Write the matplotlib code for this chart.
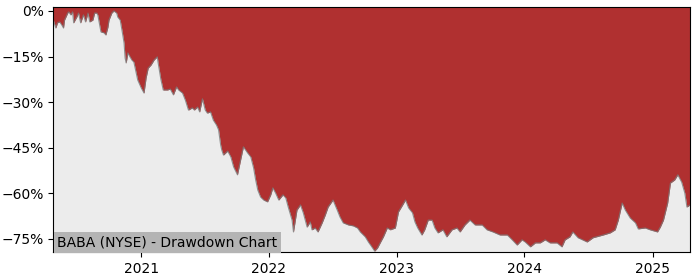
"""BABA (NYSE) drawdown chart: red area from the top down to the running drawdown."""
import matplotlib

matplotlib.use("Agg")
import matplotlib.pyplot as plt
import matplotlib.dates as mdates
import pandas as pd
from matplotlib.ticker import FuncFormatter

TITLE = "BABA (NYSE) - Drawdown Chart"

# drawdown from running peak, percent
DATES = [
    "2020-04-25", "2020-05-02", "2020-05-07", "2020-05-13", "2020-05-19", "2020-05-24",
    "2020-05-27", "2020-06-05", "2020-06-08", "2020-06-14", "2020-06-19", "2020-06-22",
    "2020-07-01", "2020-07-06", "2020-07-12", "2020-07-20", "2020-07-26", "2020-08-02",
    "2020-08-07", "2020-08-16", "2020-08-21", "2020-08-27", "2020-08-30", "2020-09-08",
    "2020-09-17", "2020-09-22", "2020-09-28", "2020-10-01", "2020-10-09", "2020-10-15",
    "2020-10-23", "2020-10-26", "2020-11-02", "2020-11-07", "2020-11-13", "2020-11-16",
    "2020-11-19", "2020-11-24", "2020-11-27", "2020-12-05", "2020-12-11", "2020-12-22",
    "2021-01-01", "2021-01-09", "2021-01-15", "2021-01-21", "2021-01-29", "2021-02-07",
    "2021-02-16", "2021-02-18", "2021-02-26", "2021-03-05", "2021-03-17", "2021-03-25",
    "2021-04-03", "2021-04-12", "2021-04-18", "2021-04-29", "2021-05-07", "2021-05-16",
    "2021-05-27", "2021-06-02", "2021-06-11", "2021-06-17", "2021-06-25", "2021-07-03",
    "2021-07-09", "2021-07-18", "2021-07-26", "2021-08-04", "2021-08-10", "2021-08-16",
    "2021-08-19", "2021-08-24", "2021-09-05", "2021-09-14", "2021-09-22", "2021-10-03",
    "2021-10-12", "2021-10-20", "2021-11-01", "2021-11-10", "2021-11-18", "2021-11-24",
    "2021-11-30", "2021-12-08", "2021-12-17", "2021-12-28", "2022-01-06", "2022-01-12",
    "2022-01-20", "2022-01-29", "2022-02-10", "2022-02-18", "2022-02-25", "2022-03-08",
    "2022-03-12", "2022-03-22", "2022-04-01", "2022-04-09", "2022-04-20", "2022-04-29",
    "2022-05-04", "2022-05-13", "2022-05-21", "2022-06-02", "2022-06-11", "2022-06-19",
    "2022-07-03", "2022-07-15", "2022-07-23", "2022-08-01", "2022-08-16", "2022-08-30",
    "2022-09-11", "2022-09-19", "2022-10-03", "2022-10-12", "2022-10-20", "2022-10-30",
    "2022-11-07", "2022-11-16", "2022-11-24", "2022-12-05", "2022-12-14", "2022-12-28",
    "2023-01-06", "2023-01-18", "2023-01-26", "2023-02-04", "2023-02-15", "2023-02-22",
    "2023-03-02", "2023-03-14", "2023-03-22", "2023-04-01", "2023-04-12", "2023-04-20",
    "2023-04-29", "2023-05-13", "2023-05-24", "2023-06-08", "2023-06-22", "2023-07-01",
    "2023-07-15", "2023-07-29", "2023-08-13", "2023-09-02", "2023-09-16", "2023-10-03",
    "2023-10-23", "2023-11-13", "2023-11-27", "2023-12-11", "2023-12-25", "2024-01-03",
    "2024-01-18", "2024-02-01", "2024-02-15", "2024-02-29", "2024-03-14", "2024-04-03",
    "2024-04-17", "2024-04-26", "2024-05-10", "2024-05-18", "2024-06-02", "2024-06-28",
    "2024-07-15", "2024-08-13", "2024-09-02", "2024-09-16", "2024-09-25", "2024-10-06",
    "2024-10-15", "2024-10-29", "2024-11-13", "2024-11-21", "2024-12-11", "2024-12-25",
    "2025-01-15", "2025-01-23", "2025-02-01", "2025-02-13", "2025-02-21", "2025-03-05",
    "2025-03-14", "2025-03-25", "2025-04-03", "2025-04-09", "2025-04-18",
]
DRAWDOWN = [
    -3.0, -5.6, -3.9, -3.6, -4.6, -5.6,
    -3.0, -0.7, -0.3, -1.3, -0.3, -3.9,
    -2.0, -0.7, -3.9, -1.3, -3.6, -0.7,
    -3.6, -3.0, -0.7, -0.7, -1.3, -6.9,
    -7.2, -7.9, -5.3, -3.0, -0.7, 0.0,
    -0.7, -2.0, -3.0, -6.3, -10.5, -15.5,
    -17.1, -13.8, -14.5, -16.1, -16.8, -22.7,
    -25.3, -27.0, -22.0, -18.8, -17.8, -16.1,
    -15.1, -16.8, -22.4, -26.0, -26.0, -25.7,
    -27.6, -25.0, -26.0, -27.0, -29.3, -32.6,
    -31.9, -32.6, -31.6, -33.2, -28.9, -32.6,
    -33.6, -33.2, -35.9, -37.5, -39.1, -44.1,
    -45.7, -47.4, -46.1, -48.0, -51.3, -53.9,
    -49.0, -44.7, -46.7, -48.0, -51.6, -55.6,
    -58.9, -61.2, -62.2, -62.8, -60.5, -58.2,
    -59.9, -62.2, -60.5, -61.5, -64.5, -68.8,
    -72.7, -65.5, -63.8, -66.4, -71.1, -69.4,
    -72.0, -71.4, -72.7, -69.7, -67.1, -64.5,
    -62.2, -65.5, -67.8, -69.7, -70.4, -70.7,
    -71.4, -72.7, -74.3, -76.0, -77.3, -79.0,
    -78.0, -76.0, -74.3, -71.4, -72.0, -71.4,
    -66.1, -63.8, -62.2, -64.8, -66.4, -69.4,
    -71.4, -73.7, -72.0, -68.8, -68.8, -71.4,
    -73.0, -72.0, -74.3, -72.0, -71.4, -72.7,
    -70.4, -68.8, -70.4, -70.4, -72.0, -72.7,
    -73.7, -73.7, -75.3, -77.0, -75.3, -76.0,
    -77.6, -76.3, -76.3, -75.3, -76.3, -76.3,
    -77.6, -75.3, -74.3, -72.7, -74.6, -76.0,
    -74.6, -73.7, -73.0, -72.0, -68.8, -63.2,
    -65.5, -68.1, -69.7, -71.7, -71.4, -72.0,
    -72.7, -71.1, -68.8, -63.2, -56.6, -55.6,
    -53.9, -56.3, -59.9, -64.5, -63.8,
]
Y_TICKS = [0, -15, -30, -45, -60, -75]
Y_LIMITS = (-79.3, 1.3)

RED = "#b03030"
BG = "#ececec"


def main():
    dates = pd.to_datetime(DATES)

    fig = plt.figure(figsize=(7.0, 2.8), dpi=100)
    ax = fig.add_axes([0.0762, 0.1, 0.9096, 0.875])
    ax.set_facecolor(BG)

    # red band runs from the top of the axes down to the drawdown curve
    ax.fill_between(dates, DRAWDOWN, Y_LIMITS[1] + 5, color=RED, lw=0)
    ax.plot(dates, DRAWDOWN, color="#7a7a7a", lw=0.8, alpha=0.8)

    ax.set_xlim(dates[0], dates[-1])
    ax.set_ylim(*Y_LIMITS)
    ax.set_yticks(Y_TICKS)
    ax.yaxis.set_major_formatter(FuncFormatter(lambda v, _: f"{v:.0f}%".replace("-", "\u2212")))
    ax.xaxis.set_major_locator(mdates.YearLocator())
    ax.xaxis.set_major_formatter(mdates.DateFormatter("%Y"))

    ax.text(0.006, 0.012, TITLE, transform=ax.transAxes, fontsize=10,
            ha="left", va="bottom",
            bbox=dict(facecolor="#b4b4b4", edgecolor="none", pad=2.5))

    fig.savefig("out.png", dpi=100)
    plt.close(fig)


if __name__ == "__main__":
    main()
